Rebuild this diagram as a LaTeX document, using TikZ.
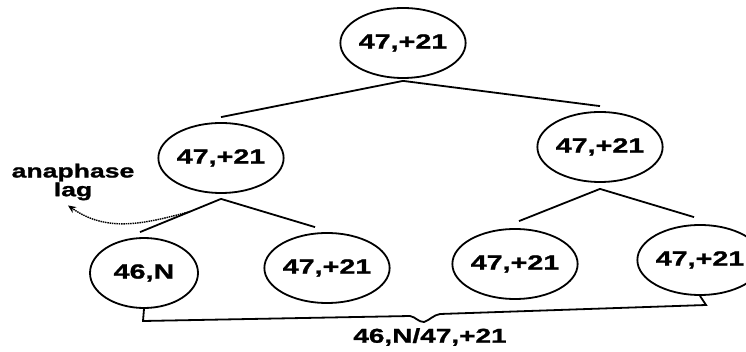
\documentclass[tikz,border=0pt]{standalone}
\usepackage{fontspec}
\usepackage{tikz}
\usetikzlibrary{arrows.meta}
\usetikzlibrary{positioning, shapes.geometric}
\newfontfamily\karyo[FakeStretch=1.4, FakeBold=1.2]{Liberation Sans}

\begin{document}
\begin{tikzpicture}[x=1pt, y=-1pt]
\useasboundingbox (0,0) rectangle (746,352);

\begin{scope}[every node/.style={ellipse, draw=black, line width=1.8pt, inner sep=0pt,
              minimum width=108pt, minimum height=70pt,
              font=\karyo\bfseries\fontsize{20.5}{21}\selectfont}]
    \node (top) at (403,43) {47,+21};
    \node (l1) at (221,158) {47,+21};
    \node (r1) at (600,147) {47,+21};
    \node (l2a) at (144,273) {46,N};
    \node (l2b) at (327,268) {47,+21};
    \node (r2a) at (515,264) {47,+21};
    \node (r2b) at (700,260) {47,+21};
\end{scope}

\begin{scope}[every edge/.style={draw=black, line width=1.8pt}]
    \path [-] ([yshift=-2pt]top.south) edge ([yshift=5pt]l1.north);
    \path [-] ([yshift=-2pt]top.south) edge ([yshift=5pt]r1.north);
    \path [-] ([yshift=-5pt]l1.south) edge ([shift={(-4pt,5pt)}]l2a.north);
    \path [-] ([yshift=-5pt]l1.south) edge ([shift={(-12pt,5pt)}]l2b.north);
    \path [-] ([yshift=-6pt]r1.south) edge ([shift={(4pt,7pt)}]r2a.north);
    \path [-] ([yshift=-6pt]r1.south) edge ([shift={(-6pt,7pt)}]r2b.north);
\end{scope}

% anaphase lag
\node[font=\karyo\bfseries\fontsize{19}{15.5}\selectfont, align=center, inner sep=0pt]
    (lag) at (73,182) {anaphase\\lag};
\path ([yshift=-5pt]l1.south) -- ([shift={(-4pt,5pt)}]l2a.north)
    coordinate[pos=0.38] (lagstart);
\draw[line width=1.4pt, dash pattern=on 1.5pt off 0.8pt, -{Stealth[length=8pt, width=7pt]}]
    (lagstart) to[out=195, in=-35] ([shift={(-5pt,-5pt)}]lag.south);

% mosaic brace
\begin{scope}[every node/.style={inner sep=0pt, minimum size = 0pt}]
    \coordinate (br1) at (143,321);
    \coordinate (br2) at (410,316);
    \coordinate (tip) at (424,322);
    \coordinate (br3) at (440,314);
    \coordinate (br4) at (706,305);
    \node[font=\karyo\bfseries\fontsize{20}{21}\selectfont] (mosaic) at (430,337) {46,N/47,+21};
\end{scope}
\draw[line width=1.8pt] (l2a.south) -- (br1) -- (br2) to[out=-10, in=180] (tip)
    to[out=20, in=190] (br3) -- (br4) -- (r2b.south);

\end{tikzpicture}
\end{document}
